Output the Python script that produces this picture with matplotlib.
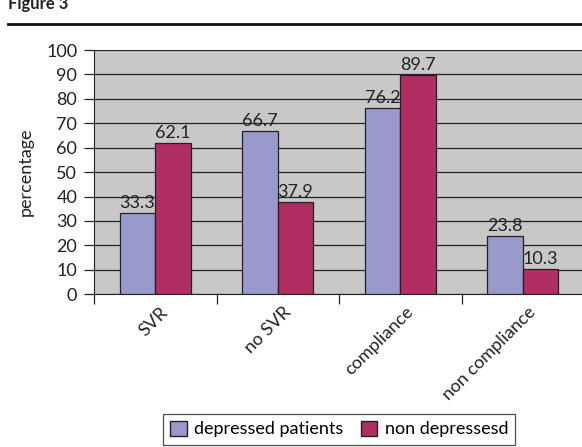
import numpy as np
import matplotlib.pyplot as plt
from matplotlib.patches import Patch

categories = ['SVR', 'no SVR', 'compliance', 'non compliance']
depressed = [33.3, 66.7, 76.2, 23.8]
non_depressed = [62.1, 37.9, 89.7, 10.3]
series_names = ['depressed patients', 'non depressesd']

plt.rcParams['font.family'] = ['Lato', 'DejaVu Sans']

fig = plt.figure(figsize=(5.82, 4.47), dpi=100)
ax = fig.add_axes([0.1615, 0.342, 0.842, 0.546])

x = np.arange(len(categories))
w = 0.29
colors = ['#9999CC', '#B02E62']
b1 = ax.bar(x - w / 2, depressed, w, color=colors[0], edgecolor='#222222', linewidth=0.9, zorder=3)
b2 = ax.bar(x + w / 2, non_depressed, w, color=colors[1], edgecolor='#222222', linewidth=0.9, zorder=3)

# value labels above each bar
for bars, vals in ((b1, depressed), (b2, non_depressed)):
    for r, v in zip(bars, vals):
        ax.text(r.get_x() + r.get_width() / 2, v + 0.8, f'{v:.1f}', ha='center', va='bottom',
                fontsize=13, color='#222222', zorder=4)

ax.set_facecolor('#C8C8C8')
ax.set_xlim(-0.5, 3.5)
ax.set_ylim(0, 100)
ax.set_yticks(np.arange(0, 101, 10))
ax.yaxis.grid(True, color='#222222', linewidth=0.9, zorder=1)
ax.tick_params(axis='y', labelsize=13, length=7, width=0.9, colors='#222222', pad=5)
ax.set_xticks(np.arange(-0.5, 3.0, 1.0))
ax.set_xticklabels([])
ax.tick_params(axis='x', length=7, width=0.9, colors='#222222')
for i, c in enumerate(categories):
    ax.text(i + 0.04, -4, c, rotation=45, ha='right', va='top', rotation_mode='anchor',
            fontsize=13, color='#222222')

for s in ['top', 'right']:
    ax.spines[s].set_visible(False)
ax.spines['left'].set_color('#222222')
ax.spines['bottom'].set_color('#222222')
ax.set_ylabel('percentage', fontsize=13, color='#222222', labelpad=9)

handles = [Patch(facecolor=colors[0], edgecolor='#222222'), Patch(facecolor=colors[1], edgecolor='#222222')]
leg = fig.legend(handles, series_names, loc='lower center', bbox_to_anchor=(0.583, -0.015), ncol=2,
                 fontsize=13, frameon=True, fancybox=False, edgecolor='#222222',
                 handlelength=0.9, handleheight=0.9, handletextpad=0.4, columnspacing=1.0,
                 borderpad=0.4)
leg.get_frame().set_linewidth(0.9)

fig.text(0.014, 0.99, 'Figure 3', fontsize=12, fontweight='bold', va='center', color='#222222')
fig.add_artist(plt.Line2D([0.014, 1.0], [0.946, 0.946], color='#111111', linewidth=2))

fig.savefig('out.png', dpi=100)
